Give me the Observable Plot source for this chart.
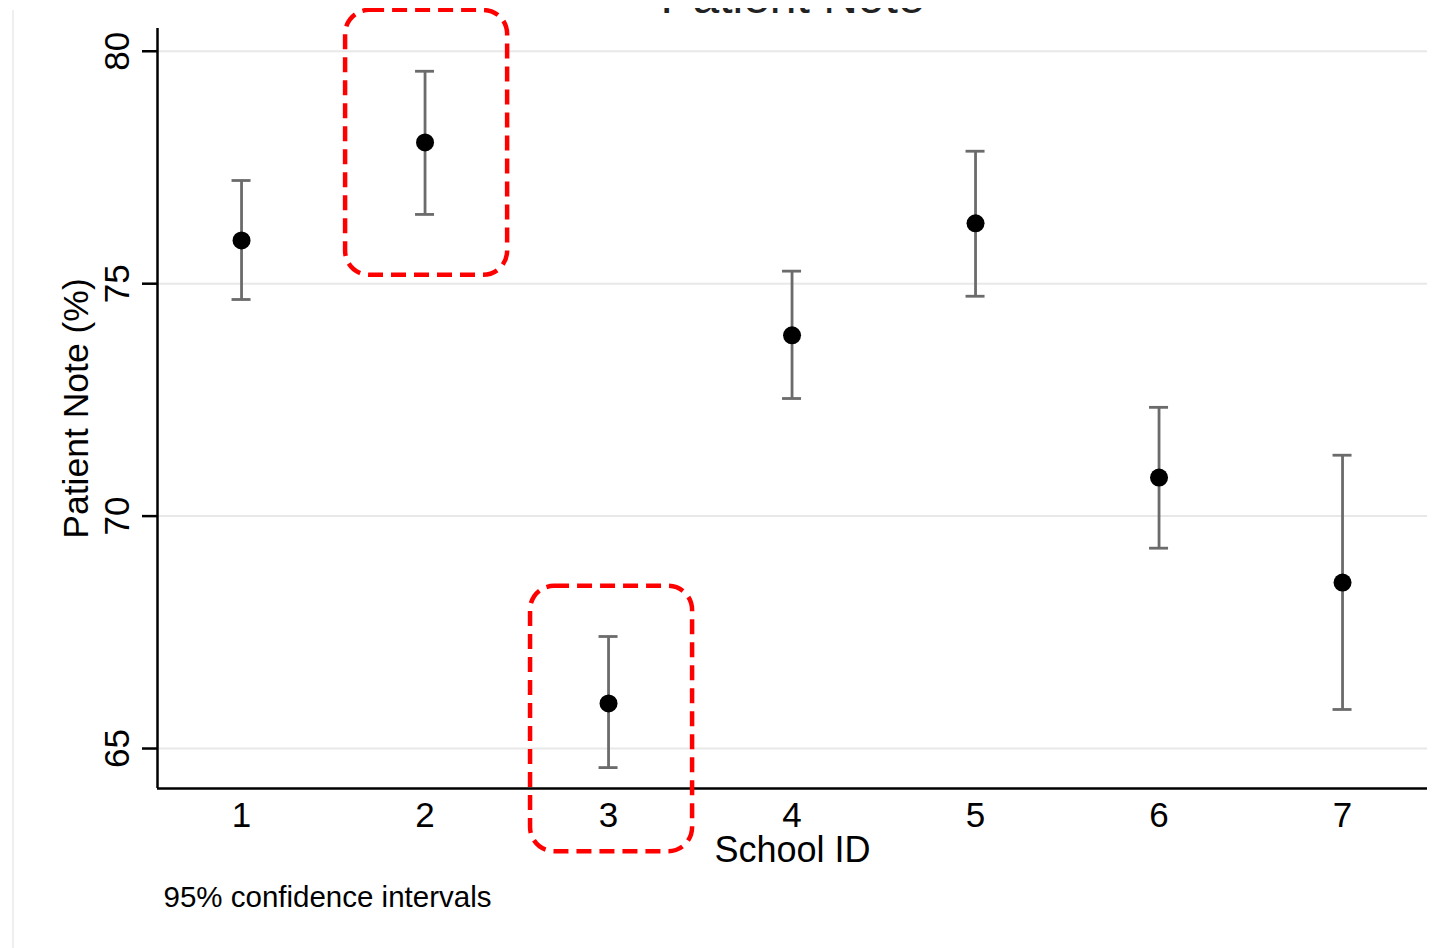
<!DOCTYPE html>
<html>
<head>
<meta charset="utf-8">
<script src="https://cdn.jsdelivr.net/npm/d3@7"></script>
<script src="https://cdn.jsdelivr.net/npm/@observablehq/plot@0.6"></script>
<style>
  html, body { margin: 0; padding: 0; background: #fff; }
  #wrap { position: relative; width: 1445px; height: 948px; overflow: hidden; }
  #edge { position: absolute; left: 12px; top: 10px; width: 1.5px; height: 940px; background: #efefef; z-index: 2; }
  #topmask { position: absolute; left: 0; top: 0; width: 1445px; height: 8px; background: #fff; z-index: 2; }
</style>
</head>
<body>
<div id="wrap"><div id="edge"></div><div id="topmask"></div></div>
<script>
// Data
const schools = [1, 2, 3, 4, 5, 6, 7];
const means   = [75.93, 78.04, 65.97, 73.89, 76.30, 70.83, 68.57];
const lower   = [74.66, 76.49, 64.59, 72.53, 74.73, 69.31, 65.84];
const upper   = [77.22, 79.57, 67.41, 75.27, 77.85, 72.34, 71.31];
const yTicks  = [65, 70, 75, 80];

// Highlight boxes (in data units: school id, percent)
const boxSchoolLo = [1.567, 2.575];
const boxSchoolHi = [2.45, 3.458];
const boxPctLo    = [75.18, 62.78];
const boxPctHi    = [80.88, 68.49];

const titleText = "Patient Note";
const xLabel = "School ID";
const yLabel = "Patient Note (%)";
const caption = "95% confidence intervals";

const rows = schools.map((s, i) => ({school: s, mean: means[i], lo: lower[i], hi: upper[i]}));
const boxes = boxSchoolLo.map((v, i) => ({x1: v, x2: boxSchoolHi[i], y1: boxPctLo[i], y2: boxPctHi[i]}));

const xDomain = [0.542, 7.463];
const yDomain = [64.14, 80.49];
const font = "Liberation Sans, Arial, Helvetica, sans-serif";

const chart = Plot.plot({
  width: 1445,
  height: 948,
  marginLeft: 157,
  marginRight: 18,
  marginTop: 28,
  marginBottom: 160,
  style: {fontFamily: font, background: "white"},
  x: {domain: xDomain, axis: null},
  y: {domain: yDomain, axis: null},
  marks: [
    Plot.ruleY(yTicks, {stroke: "#e8e8e8", strokeWidth: 2}),
    Plot.axisY({ticks: yTicks, tickSize: 15, tickFormat: () => "", stroke: "black", strokeWidth: 2.5, label: null}),
    Plot.ruleX([xDomain[0]], {stroke: "black", strokeWidth: 2.5}),
    Plot.ruleY([yDomain[0]], {stroke: "black", strokeWidth: 2.5}),
    // y tick labels rotated
    Plot.text(yTicks, {y: d => d, text: d => String(d), frameAnchor: "left", dx: -29, rotate: -90,
      textAnchor: "middle", lineAnchor: "bottom", fontSize: 35, fill: "black"}),
    // x tick labels
    Plot.text(schools, {x: d => d, text: d => String(d), frameAnchor: "bottom", dy: 14,
      lineAnchor: "top", fontSize: 35, fill: "black"}),
    // axis titles
    Plot.text([xLabel], {frameAnchor: "bottom", dy: 48, lineAnchor: "top", fontSize: 36, fill: "black"}),
    Plot.text([yLabel], {frameAnchor: "left", dx: -70, rotate: -90, textAnchor: "middle",
      lineAnchor: "bottom", fontSize: 35.5, fill: "black"}),
    // title (cut off at top like the reference)
    Plot.text([titleText], {frameAnchor: "top", dy: -16, lineAnchor: "bottom", fontSize: 48, fill: "#222"}),
    // caption
    Plot.text([caption], {frameAnchor: "bottom-left", dx: 6, dy: 118, textAnchor: "start",
      lineAnchor: "bottom", fontSize: 29.5, fill: "black"}),
    // error bars
    Plot.ruleX(rows, {x: "school", y1: "lo", y2: "hi", stroke: "#6b6b6b", strokeWidth: 2.8}),
    Plot.ruleY(rows, {y: "lo", x1: "school", x2: "school", insetLeft: -9.5, insetRight: -9.5, stroke: "#6b6b6b", strokeWidth: 2.8}),
    Plot.ruleY(rows, {y: "hi", x1: "school", x2: "school", insetLeft: -9.5, insetRight: -9.5, stroke: "#6b6b6b", strokeWidth: 2.8}),
    Plot.dot(rows, {x: "school", y: "mean", r: 9, fill: "black"}),
    // highlight boxes
    Plot.rect(boxes, {x1: "x1", x2: "x2", y1: "y1", y2: "y2", fill: "none", stroke: "#ff0000",
      strokeWidth: 4.5, strokeDasharray: "15,8", rx: 24})
  ]
});
document.getElementById("wrap").appendChild(chart);
</script>
</body>
</html>
